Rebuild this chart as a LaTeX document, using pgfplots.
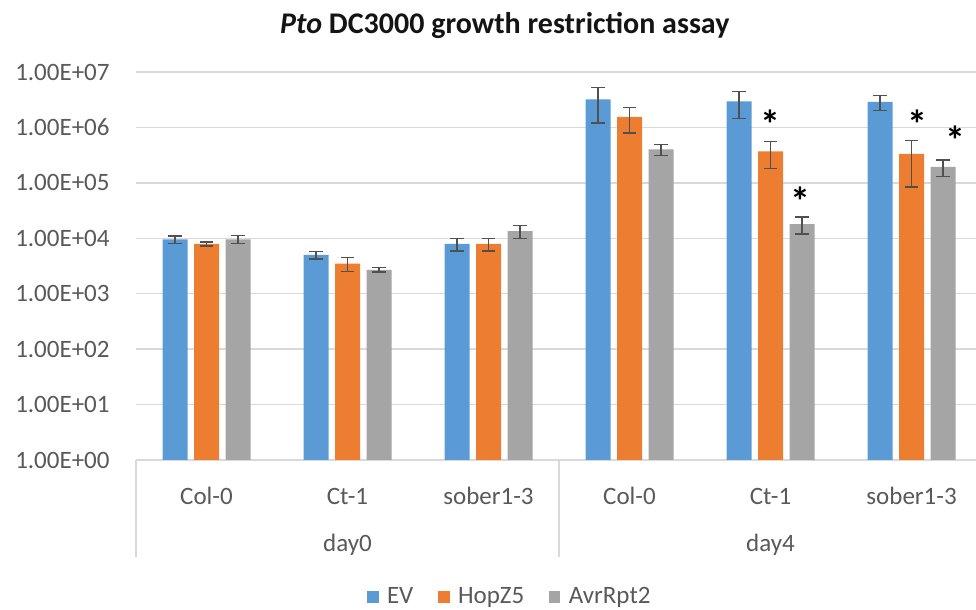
\documentclass[border=0pt]{standalone}
\usepackage{pgfplots}
\pgfplotsset{compat=1.18}
\usepackage{fontspec}
\setmainfont{Carlito}
\definecolor{cEV}{HTML}{5B9BD5}
\definecolor{cHop}{HTML}{ED7D31}
\definecolor{cAvr}{HTML}{A5A5A5}
\definecolor{txt}{HTML}{595959}
\definecolor{grd}{HTML}{D9D9D9}
\definecolor{err}{HTML}{505050}
\pgfplotsset{sqleg/.style={legend image code/.code={\fill[##1] (0pt,-2.9pt) rectangle (5.6pt,2.9pt); \path (7.8pt,0pt);}}}
\begin{document}
\begin{tikzpicture}
\useasboundingbox (-68pt,-75pt) rectangle (420pt,230pt);
\begin{axis}[
  at={(0,0)}, anchor=south west,
  scale only axis, width=420pt, height=194pt,
  ymode=log, ymin=1, ymax=1e7,
  xmin=-0.5, xmax=5.457,
  ybar=3.25pt, bar width=12.5pt,
  axis x line*=bottom, axis y line*=left,
  x axis line style={draw=grd, line width=0.75pt},
  y axis line style={draw=none},
  ymajorgrids, grid style={draw=grd, line width=0.75pt},
  ytick={1,10,100,1000,10000,100000,1000000,10000000},
  yticklabels={1.00E+00,1.00E+01,1.00E+02,1.00E+03,1.00E+04,1.00E+05,1.00E+06,1.00E+07},
  yminorticks=false, minor y tick num=0,
  ytick style={draw=none},
  yticklabel style={anchor=east, inner sep=0pt, xshift=-13pt, font=\fontsize{12.5}{15}\selectfont, text=txt},
  xtick={0,1,2,3,4,5},
  xticklabels={Col-0,Ct-1,sober1-3,Col-0,Ct-1,sober1-3},
  xtick style={draw=none},
  major tick length=0pt,
  xticklabel style={anchor=base, inner sep=0pt, yshift=-22.5pt, font=\fontsize{12.5}{15}\selectfont, text=txt},
  extra x ticks={-0.5,2.5,5.5},
  extra x tick labels={},
  extra x tick style={grid=none, major tick length=48.5pt, tick align=outside, xtick style={draw=grd, line width=0.75pt}},
  legend columns=3,
  legend style={at={(0.4464,-0.353)}, anchor=center, draw=none, fill=none,
    font=\fontsize{12.5}{15}\selectfont, text=txt,
    /tikz/every even column/.append style={column sep=10.5pt}},
  legend cell align=left,
  clip=false,
]
\addplot+[sqleg, fill=cEV, draw=none, error bars/.cd, y dir=both, y explicit,
  error bar style={draw=err, line width=0.75pt}, error mark options={rotate=90, mark size=3.3pt, draw=err, line width=0.75pt}]
 coordinates {(0,9600) +- (0,1500) (1,5000) +- (0,800) (2,7900) +- (0,2000)
   (3,3200000) +- (0,2000000) (4,2950000) +- (0,1500000) (5,2900000) +- (0,900000)};
\addplot+[sqleg, fill=cHop, draw=none, error bars/.cd, y dir=both, y explicit,
  error bar style={draw=err, line width=0.75pt}, error mark options={rotate=90, mark size=3.3pt, draw=err, line width=0.75pt}]
 coordinates {(0,7900) +- (0,700) (1,3500) +- (0,1000) (2,7900) +- (0,2000)
   (3,1550000) +- (0,750000) (4,370000) +- (0,190000) (5,335000) +- (0,250000)};
\addplot+[sqleg, fill=cAvr, draw=none, error bars/.cd, y dir=both, y explicit,
  error bar style={draw=err, line width=0.75pt}, error mark options={rotate=90, mark size=3.3pt, draw=err, line width=0.75pt}]
 coordinates {(0,9600) +- (0,1600) (1,2700) +- (0,250) (2,13500) +- (0,3500)
   (3,400000) +- (0,90000) (4,18000) +- (0,6000) (5,195000) +- (0,65000)};
\legend{EV,HopZ5,AvrRpt2}
\node[anchor=base, text=txt, font=\fontsize{12.5}{15}\selectfont] at ([yshift=-46pt]axis cs:1,1) {day0};
\node[anchor=base, text=txt, font=\fontsize{12.5}{15}\selectfont] at ([yshift=-46pt]axis cs:4,1) {day4};
\node[anchor=base, font=\fontsize{15}{18}\selectfont\bfseries, text=black!92] at (axis description cs:0.439,1.1005) {\textit{Pto} DC3000 growth restriction assay};
\node[font=\fontsize{20}{20}\selectfont\bfseries, inner sep=0pt, yshift=-3pt] at (axis cs:4,1.48e6) {*};
\node[font=\fontsize{20}{20}\selectfont\bfseries, inner sep=0pt, yshift=-3pt] at (axis cs:4.21,6.0e4) {*};
\node[font=\fontsize{20}{20}\selectfont\bfseries, inner sep=0pt, yshift=-3pt] at (axis cs:5.04,1.48e6) {*};
\node[font=\fontsize{20}{20}\selectfont\bfseries, inner sep=0pt, yshift=-3pt] at (axis cs:5.31,7.6e5) {*};
\end{axis}
\end{tikzpicture}
\end{document}
